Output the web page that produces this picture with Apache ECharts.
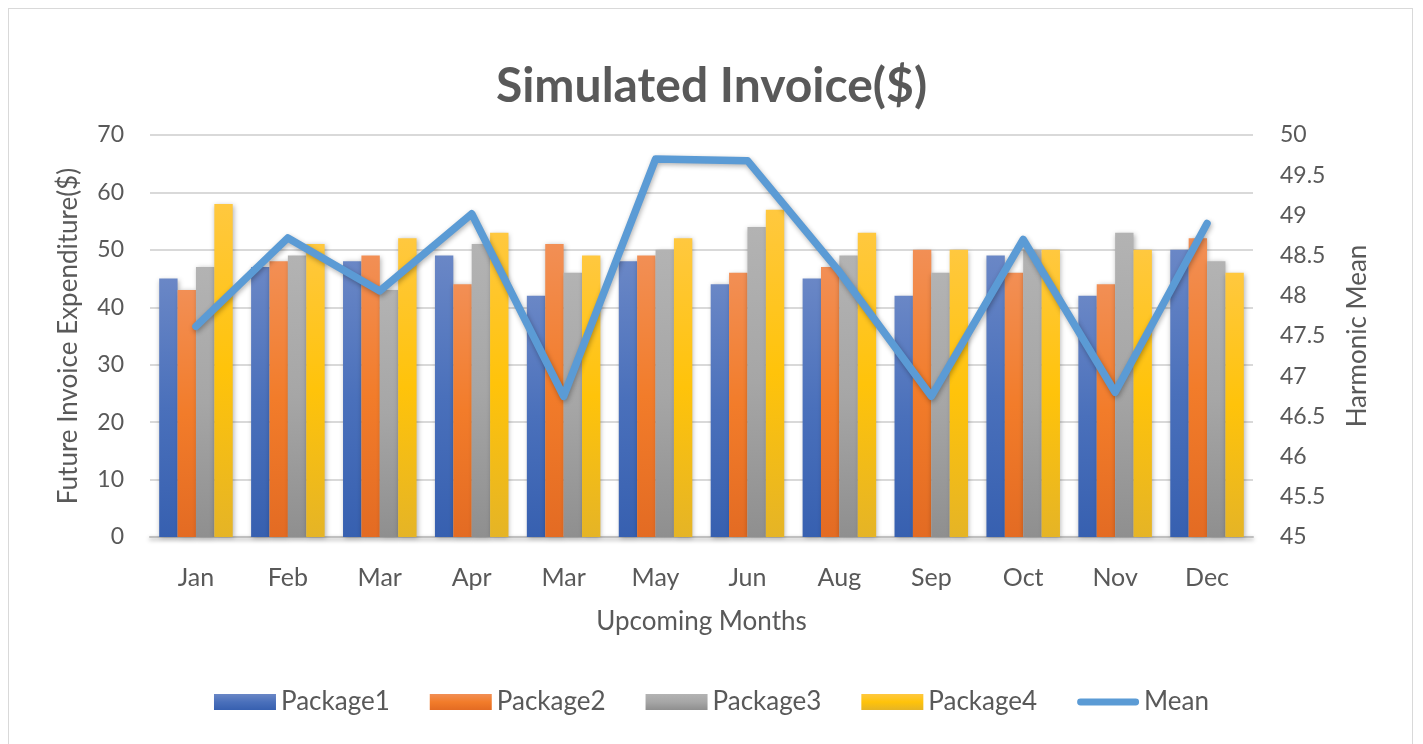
<!DOCTYPE html>
<html>
<head>
<meta charset="utf-8">
<script src="https://cdn.jsdelivr.net/npm/echarts@6/dist/echarts.min.js"></script>
<style>
  html, body { margin: 0; padding: 0; background: #fff; }
  #frame { position: absolute; left: 8px; top: 8px; width: 1405px; height: 760px; border: 1.5px solid #d9d9d9; box-sizing: border-box; }
  #chart { position: absolute; left: 0; top: 0; width: 1423px; height: 744px; }
</style>
</head>
<body>
<div id="frame"></div>
<div id="chart"></div>
<script>
var months = ['Jan', 'Feb', 'Mar', 'Apr', 'Mar', 'May', 'Jun', 'Aug', 'Sep', 'Oct', 'Nov', 'Dec'];
var package1 = [45, 47, 48, 49, 42, 48, 44, 45, 42, 49, 42, 50];
var package2 = [43, 48, 49, 44, 51, 49, 46, 47, 50, 46, 44, 52];
var package3 = [47, 49, 43, 51, 46, 50, 54, 49, 46, 50, 53, 48];
var package4 = [58, 51, 52, 53, 49, 52, 57, 53, 50, 50, 50, 46];
var harmonicMean = [47.62, 48.72, 48.06, 49.02, 46.75, 49.7, 49.68, 48.3, 46.75, 48.7, 46.8, 48.9];

var textColor = '#595959';
var fontFam = 'Lato, "Open Sans", sans-serif';

function grad(top, mid, bottom) {
  return new echarts.graphic.LinearGradient(0, 0, 0, 1, [
    { offset: 0, color: top },
    { offset: 0.5, color: mid },
    { offset: 1, color: bottom }
  ]);
}

var colors = {
  p1: grad('#6a87c6', '#4a70bb', '#3760b0'),
  p2: grad('#f28f55', '#f27c2a', '#e36b23'),
  p3: grad('#b3b3b3', '#a6a6a6', '#8f8f8f'),
  p4: grad('#ffc83f', '#ffc30a', '#e5b426')
};

function barSeries(name, data, color) {
  return {
    name: name,
    type: 'bar',
    data: data,
    barGap: '0%',
    barCategoryGap: '20%',
    itemStyle: {
      color: color,
      shadowColor: 'rgba(0,0,0,0.3)',
      shadowBlur: 5,
      shadowOffsetX: 1,
      shadowOffsetY: 1
    }
  };
}

// thick line icon for the Mean legend entry (tiny dots keep the 16px box)
var meanIcon = 'path://M4,4.5 L61,4.5 A3.5,3.5 0 0 1 61,11.5 L4,11.5 A3.5,3.5 0 0 1 4,4.5 Z M0.5,0 h0.01 v0.01 z M0.5,16 h0.01 v0.01 z M64.5,0 h0.01 v0.01 z';

var chart = echarts.init(document.getElementById('chart'));
chart.setOption({
  animation: false,
  title: {
    text: 'Simulated Invoice($)',
    left: 'center',
    top: 58,
    textStyle: { color: textColor, fontSize: 48, fontWeight: 'bold', fontFamily: fontFam }
  },
  grid: { left: 150, right: 170, top: 135, bottom: 207 },
  legend: {
    bottom: 24,
    left: 'center',
    itemWidth: 62,
    itemHeight: 16,
    itemGap: 40,
    textStyle: { color: textColor, fontSize: 26, fontFamily: fontFam },
    data: [
      { name: 'Package1', icon: 'rect' },
      { name: 'Package2', icon: 'rect' },
      { name: 'Package3', icon: 'rect' },
      { name: 'Package4', icon: 'rect' },
      { name: 'Mean', icon: meanIcon }
    ]
  },
  xAxis: {
    type: 'category',
    data: months,
    name: 'Upcoming Months',
    nameLocation: 'middle',
    nameGap: 72,
    nameTextStyle: { color: textColor, fontSize: 26, fontFamily: fontFam },
    axisLine: { lineStyle: { color: '#bfbfbf', width: 2, shadowColor: 'rgba(0,0,0,0.35)', shadowBlur: 4, shadowOffsetY: 2 } },
    axisTick: { show: false },
    axisLabel: { color: textColor, fontSize: 25, fontFamily: fontFam, margin: 28 }
  },
  yAxis: [
    {
      type: 'value',
      min: 0,
      max: 70,
      interval: 10,
      name: 'Future Invoice Expenditure($)',
      nameLocation: 'middle',
      nameGap: 68,
      nameTextStyle: { color: textColor, fontSize: 26, fontFamily: fontFam },
      axisLine: { show: false },
      axisTick: { show: false },
      axisLabel: { color: textColor, fontSize: 23, fontFamily: fontFam, margin: 26 },
      splitLine: { lineStyle: { color: '#d9d9d9', width: 2 } }
    },
    {
      type: 'value',
      min: 45,
      max: 50,
      interval: 0.5,
      name: 'Harmonic Mean',
      nameLocation: 'middle',
      nameGap: 92,
      nameRotate: 90,
      nameTextStyle: { color: textColor, fontSize: 26, fontFamily: fontFam },
      axisLine: { show: false },
      axisTick: { show: false },
      axisLabel: { color: textColor, fontSize: 23, fontFamily: fontFam, margin: 27 },
      splitLine: { show: false }
    }
  ],
  series: [
    barSeries('Package1', package1, colors.p1),
    barSeries('Package2', package2, colors.p2),
    barSeries('Package3', package3, colors.p3),
    barSeries('Package4', package4, colors.p4),
    {
      name: 'Mean',
      type: 'line',
      yAxisIndex: 1,
      data: harmonicMean,
      showSymbol: false,
      symbol: 'none',
      itemStyle: { color: '#5b9bd5' },
      lineStyle: {
        color: '#5b9bd5',
        width: 7.5,
        cap: 'round',
        join: 'round',
        shadowColor: 'rgba(0,0,0,0.3)',
        shadowBlur: 5,
        shadowOffsetX: 1,
        shadowOffsetY: 2
      }
    }
  ]
});
</script>
</body>
</html>
